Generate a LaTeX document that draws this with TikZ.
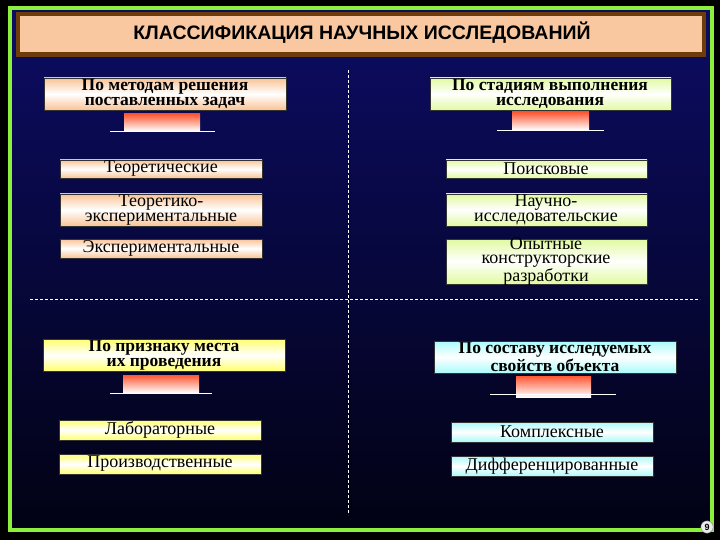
\documentclass[tikz,border=0pt]{standalone}
\usepackage{fontspec}
\setmainfont{Liberation Serif}
\newfontfamily\arialf{Liberation Sans}
\begin{document}
\begin{tikzpicture}[x=1pt,y=-1pt,
  item/.style={shade, shading=axis, top color=#1, bottom color=#1, middle color=white, draw=black!80, line width=0.5pt},
  head/.style={font=\fontsize{17.5}{14.5}\selectfont\bfseries, align=center, inner sep=0pt},
  txt/.style={font=\fontsize{18}{14.5}\selectfont, align=center, inner sep=0pt},
  arr/.style={shade, top color=red!65!orange!80, bottom color=white}]
\useasboundingbox (0,0) rectangle (720,540);
\fill[black] (0,0) rectangle (720,540);
\shade[top color={rgb,255:red,12;green,12;blue,100}, bottom color={rgb,255:red,2;green,2;blue,20}] (12,10) rectangle (710,528);
\draw[line width=4pt, color={rgb,255:red,140;green,240;blue,60}] (10,8) rectangle (712,530);
% title
\fill[color={rgb,255:red,110;green,60;blue,10}] (16,12) rectangle (706,57);
\fill[color={rgb,255:red,250;green,200;blue,160}] (20,16) rectangle (702,52);
\node[font=\arialf\fontsize{19.5}{19.5}\selectfont\bfseries] (title) at (362,33) {КЛАССИФИКАЦИЯ НАУЧНЫХ ИССЛЕДОВАНИЙ};
% dashed lines
\coordinate (vt) at (348,70); \coordinate (vb) at (348,515);
\coordinate (hl) at (30,299); \coordinate (hr) at (700,299);
\draw[white, dashed, dash pattern=on 3pt off 2pt] (vt) -- (vb);
\draw[white, dashed, dash pattern=on 3pt off 2pt] (hl) -- (hr);
% colours
\definecolor{pk}{RGB}{250,195,150}
\definecolor{yg}{RGB}{225,250,160}
\definecolor{yl}{RGB}{255,255,110}
\definecolor{cy}{RGB}{170,250,250}
\def\bx#1#2#3#4#5{\filldraw[item=#5] (#1,#2) rectangle (#3,#4);}
% top left
\bx{44}{78}{286}{110}{pk}
\node[head] (h1) at (165,94) {По методам решения\\поставленных задач};
\fill[arr] (124,114) rectangle (200,131); \draw[white,thick] (110,131) -- (215,131);
\bx{60}{160}{262}{178}{pk} \node[txt] (a1) at (161,169) {Теоретические};
\bx{60}{194}{262}{226}{pk} \node[txt] (a2) at (161,210) {Теоретико-\\экспериментальные};
\bx{60}{239}{262}{258}{pk} \node[txt] (a3) at (161,248.5) {Экспериментальные};
% top right
\bx{430}{78}{671}{110}{yg}
\node[head] (h2) at (550,94) {По стадиям выполнения\\исследования};
\fill[arr] (512,112) rectangle (589,130); \draw[white,thick] (497,130) -- (604,130);
\bx{446}{160}{647}{178}{yg} \node[txt] (b1) at (546,169) {Поисковые};
\bx{446}{194}{647}{226}{yg} \node[txt] (b2) at (546,210) {Научно-\\исследовательские};
\bx{446}{239}{647}{284}{yg} \node[txt] (b3) at (546,261.5) {Опытные\\конструкторские\\разработки};
% bottom left
\bx{43}{339}{285}{371}{yl}
\node[head] (h3) at (164,355) {По признаку места\\их проведения};
\fill[arr] (123,375) rectangle (199,393); \draw[white,thick] (110,393) -- (212,393);
\bx{59}{420}{261}{440}{yl} \node[txt] (c1) at (160,430) {Лабораторные};
\bx{59}{454}{261}{474}{yl} \node[txt] (c2) at (160,464) {Производственные};
% bottom right
\bx{434}{341}{676}{373}{cy}
\node[head] (h4) at (555,357) {По составу исследуемых\\свойств объекта};
\fill[arr] (516,376) rectangle (591,397); \draw[white,thick] (490,394) -- (616,394);
\bx{451}{422}{653}{442}{cy} \node[txt] (d1) at (552,432) {Комплексные};
\bx{451}{456}{653}{476}{cy} \node[txt] (d2) at (552,466) {Дифференцированные};
% page number
\node[circle, fill=white!85!gray, draw=gray, inner sep=1.5pt, font=\arialf\bfseries\small] (pg) at (707,527) {9};
\end{tikzpicture}
\end{document}
